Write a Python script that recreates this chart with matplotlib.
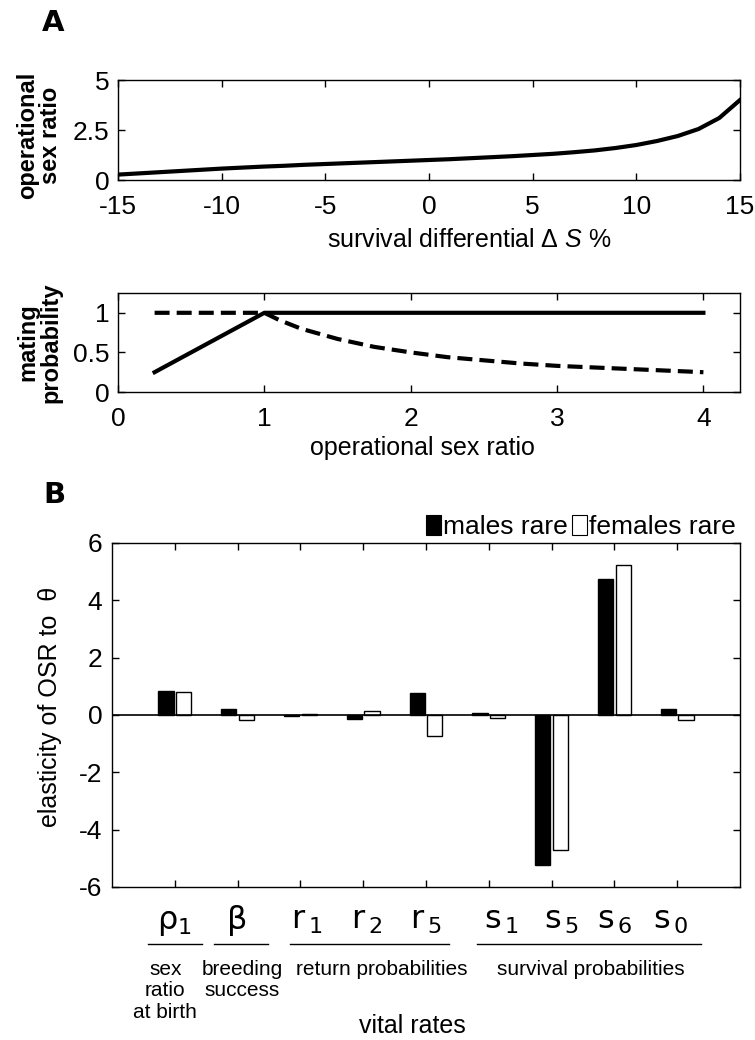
import matplotlib
matplotlib.use('Agg')
import matplotlib.pyplot as plt
from matplotlib.patches import Patch
from matplotlib.transforms import blended_transform_factory

plt.rcParams['font.family'] = ['Liberation Sans', 'DejaVu Sans']
plt.rcParams['axes.unicode_minus'] = False
plt.rcParams['mathtext.fontset'] = 'custom'
plt.rcParams['mathtext.rm'] = 'Liberation Sans'
plt.rcParams['mathtext.it'] = 'Liberation Sans:italic'
plt.rcParams['mathtext.bf'] = 'Liberation Sans:bold'

# panel A, top: operational sex ratio against survival differential
delta_s = [-15, -14, -13, -12, -11, -10, -9, -8, -7, -6, -5, -4, -3, -2, -1, 0,
           1, 2, 3, 4, 5, 6, 7, 8, 9, 10, 11, 12, 13, 14, 15]
osr = [0.27, 0.33, 0.39, 0.45, 0.51, 0.57, 0.62, 0.67, 0.71, 0.76, 0.80, 0.84,
       0.88, 0.92, 0.96, 1.00, 1.04, 1.09, 1.14, 1.19, 1.25, 1.31, 1.39, 1.48,
       1.60, 1.75, 1.95, 2.20, 2.55, 3.10, 4.00]

# panel A, bottom: mating probability against operational sex ratio
osr_solid = [0.25, 1.0, 4.0]
mating_solid = [0.25, 1.0, 1.0]
osr_dashed = [0.25, 1.0, 1.1, 1.25, 1.5, 1.75, 2.0, 2.25, 2.5, 2.75, 3.0,
              3.25, 3.5, 3.75, 4.0]
mating_dashed = [1.0, 1.0, 0.91, 0.80, 0.67, 0.57, 0.50, 0.44, 0.40, 0.36,
                 0.33, 0.31, 0.29, 0.27, 0.25]

# panel B: elasticities
rate_labels = ['ρ$_1$', 'β', r'r$_{\,1}$', r'r$_{\,2}$', r'r$_{\,5}$',
               r's$_{\,1}$', r's$_{\,5}$', r's$_{\,6}$', r's$_{\,0}$']
males_rare = [0.82, 0.20, -0.05, -0.15, 0.76, 0.08, -5.22, 4.73, 0.20]
females_rare = [0.81, -0.19, 0.03, 0.15, -0.74, -0.09, -4.71, 5.22, -0.19]
group_names = ['sex\nratio\nat birth', 'breeding\nsuccess',
               'return probabilities', 'survival probabilities']

# layout of the annotations under panel B (data x units)
label_shift = [0, 0, 0.1, 0.05, 0, 0.2, 0.15, 0, -0.1]
group_spans = [(0.58, 1.44), (1.62, 2.49), (2.84, 5.37), (5.82, 9.38)]
group_text_x = [0.85, 2.07, 4.3, 7.62]

W, H = 755.0, 1040.0


def rect(left, top, right, bottom):
    return [left / W, 1 - bottom / H, (right - left) / W, (bottom - top) / H]


def fy(py):
    return 1 - py / H


def style_box(ax, ypad):
    ax.tick_params(direction='in', top=True, right=True, length=5, width=1,
                   labelsize=19)
    ax.tick_params(axis='x', pad=11)
    ax.tick_params(axis='y', pad=ypad)
    for sp in ax.spines.values():
        sp.set_linewidth(1)


fig = plt.figure(figsize=(W / 100, H / 100), dpi=100)

# --- A top
ax1 = fig.add_axes(rect(118, 80, 740, 180))
ax1.plot(delta_s, osr, color='black', lw=3)
ax1.set_xlim(-15, 15)
ax1.set_ylim(0, 5)
ax1.set_xticks([-15, -10, -5, 0, 5, 10, 15])
ax1.set_yticks([0, 2.5, 5])
ax1.set_yticklabels(['0', '2.5', '5'])
style_box(ax1, 6)
ax1.set_xlabel('survival differential Δ $S$ %', fontsize=18)
ax1.xaxis.set_label_coords(0.565, -0.48)
ax1.set_ylabel('operational\nsex ratio', fontsize=17, fontweight='bold',
               linespacing=1.0)
ax1.yaxis.set_label_coords(-0.09, 0.45)

# --- A bottom
ax2 = fig.add_axes(rect(118, 293, 740, 392))
ax2.plot(osr_dashed, mating_dashed, color='black', lw=3, dashes=(3.6, 1.7))
ax2.plot(osr_solid, mating_solid, color='black', lw=3)
ax2.set_xlim(0, 4.25)
ax2.set_ylim(0, 1.25)
ax2.set_xticks([0, 1, 2, 3, 4])
ax2.set_yticks([0, 0.5, 1])
ax2.set_yticklabels(['0', '0.5', '1'])
style_box(ax2, 6)
ax2.set_xlabel('operational sex ratio', fontsize=18)
ax2.xaxis.set_label_coords(0.49, -0.44)
ax2.set_ylabel('mating\nprobability', fontsize=17, fontweight='bold',
               linespacing=1.0)
ax2.yaxis.set_label_coords(-0.09, 0.5)

# --- B
ax3 = fig.add_axes(rect(112, 543, 740, 887))
pos = list(range(1, len(males_rare) + 1))
ax3.bar([p - 0.14 for p in pos], males_rare, width=0.24, color='black',
        edgecolor='black', lw=1, zorder=2)
ax3.bar([p + 0.14 for p in pos], females_rare, width=0.24, color='white',
        edgecolor='black', lw=1, zorder=2)
ax3.axhline(0, color='black', lw=1.2, zorder=3)
ax3.set_xlim(0, 10)
ax3.set_ylim(-6, 6)
ax3.set_xticks(pos)
ax3.set_xticklabels([])
ax3.set_yticks([-6, -4, -2, 0, 2, 4, 6])
style_box(ax3, 7)
ax3.set_ylabel('elasticity of OSR to  θ', fontsize=18)
ax3.yaxis.set_label_coords(-0.08, 0.525)

handles = [Patch(facecolor='black', edgecolor='black', lw=0.8),
           Patch(facecolor='white', edgecolor='black', lw=0.8)]
ax3.legend(handles, ['males rare', 'females rare'], ncol=2,
           loc='lower right', bbox_to_anchor=(1.0, 1.0), frameon=False,
           fontsize=19, handlelength=0.55, handleheight=0.75,
           handletextpad=0.1, columnspacing=0.15, borderaxespad=0.15,
           borderpad=0)

trans = blended_transform_factory(ax3.transData, fig.transFigure)
for p, lab, dx in zip(pos, rate_labels, label_shift):
    ax3.text(p + dx, fy(929), lab, transform=trans, ha='center',
             va='baseline', fontsize=23, math_fontfamily='dejavusans',
             family='DejaVu Sans')
for (x0, x1) in group_spans:
    ax3.plot([x0, x1], [fy(944), fy(944)], color='black', lw=1,
             transform=trans, clip_on=False)
for x, name in zip(group_text_x, group_names):
    ax3.text(x, fy(960), name, transform=trans, ha='center', va='top',
             fontsize=15, linespacing=1.15)
ax3.text(4.78, fy(1026), 'vital rates', transform=trans, ha='center',
         va='center', fontsize=18)

fig.text(42 / W, fy(23), 'A', fontsize=21, fontweight='heavy',
         family='DejaVu Sans', ha='left', va='center')
fig.text(43 / W, fy(495), 'B', fontsize=21, fontweight='heavy',
         family='DejaVu Sans', ha='left', va='center')

fig.savefig('out.png', dpi=100)
